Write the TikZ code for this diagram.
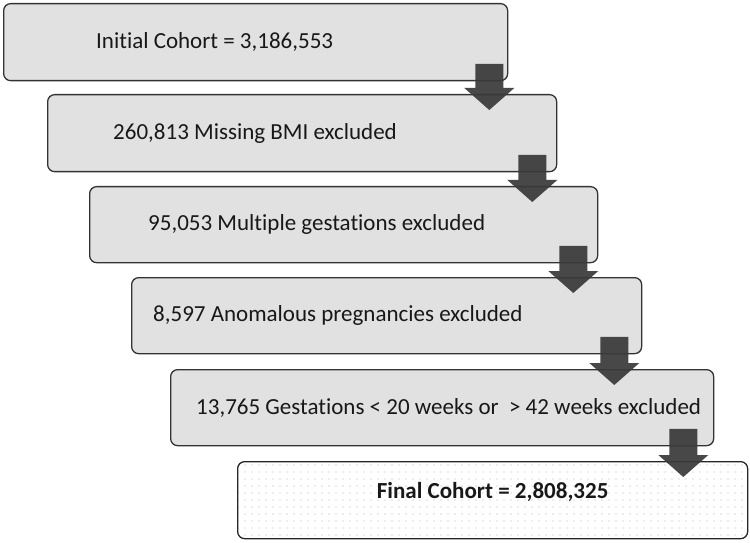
\documentclass[tikz,border=0pt]{standalone}
\usepackage{fontspec}
\setmainfont{Carlito}[Ligatures={NoCommon,NoRare,NoDiscretionary}]
\usetikzlibrary{positioning,calc,patterns.meta}

\definecolor{boxgray}{HTML}{E1E1E1}
\definecolor{linegray}{HTML}{333333}
\definecolor{arrowgray}{HTML}{3A3A3A}
\definecolor{textgray}{HTML}{181818}

\tikzset{
    stepbox/.style={draw=linegray, line width=1.3pt, fill=boxgray, rounded corners=7pt,
        anchor=north west, minimum height=77pt, inner sep=0pt},
    finalbox/.style={stepbox, draw=black!85, fill=none,
        pattern={Dots[radius=0.6pt,distance=7pt]}, pattern color=gray!60},
    steptext/.style={font=\fontsize{23}{27}\selectfont, text=textgray, inner sep=0pt, anchor=west},
    flowarrow/.style={fill=arrowgray, fill opacity=0.93}
}

\begin{document}
\begin{tikzpicture}[x=1pt,y=1pt]
        \useasboundingbox (0,0) rectangle (750,542);

        % 1. The boxes of the cohort (light gray, last one dotted)
        \node[stepbox, minimum width=504pt] (b1) at (3,539) {};
        \node[stepbox, minimum width=509pt] (b2) at (47,448) {};
        \node[stepbox, minimum width=508pt, minimum height=76pt] (b3) at (89,356) {};
        \node[stepbox, minimum width=510pt, minimum height=76pt] (b4) at (131,265) {};
        \node[stepbox, minimum width=543pt, minimum height=76pt] (b5) at (170,173) {};
        \node[finalbox, minimum width=510pt] (b6) at (237,81) {};

        % 2. The texts in the boxes
        \node[steptext, right=93pt of b1.west] (t1) {Initial Cohort = 3,186,553};
        \node[steptext, right=66pt of b2.west] (t2) {260,813 Missing BMI excluded};
        \node[steptext, right=59pt of b3.west] (t3) {95,053 Multiple gestations excluded};
        \node[steptext, right=22pt of b4.west] (t4) {8,597 Anomalous pregnancies excluded};
        \node[steptext, right=26pt of b5.west] (t5) {13,765 Gestations < 20 weeks or\ \ > 42 weeks excluded};
        \node[steptext, anchor=center, font=\fontsize{23}{27}\selectfont\bfseries] (t6)
            at ($(b6.center)+(0,8)$) {Final Cohort = 2,808,325};

        % 3. Block arrows from each box down to the next one
        \foreach \up/\dn/\off in {b1/b2/19, b2/b3/25, b3/b4/25, b4/b5/28, b5/b6/31} {
            \coordinate (s) at ($(\up.south east)+(-\off,17.5)$);
            \coordinate (h) at (s |- \dn.north);
            \fill[flowarrow] ($(s)+(-14,0)$) -- ($(s)+(14,0)$) -- ($(h)+(14,6)$)
                -- ($(h)+(25,6)$) -- ($(h)+(0,-16)$) -- ($(h)+(-25,6)$)
                -- ($(h)+(-14,6)$) -- cycle;
        }

    \end{tikzpicture}
\end{document}
